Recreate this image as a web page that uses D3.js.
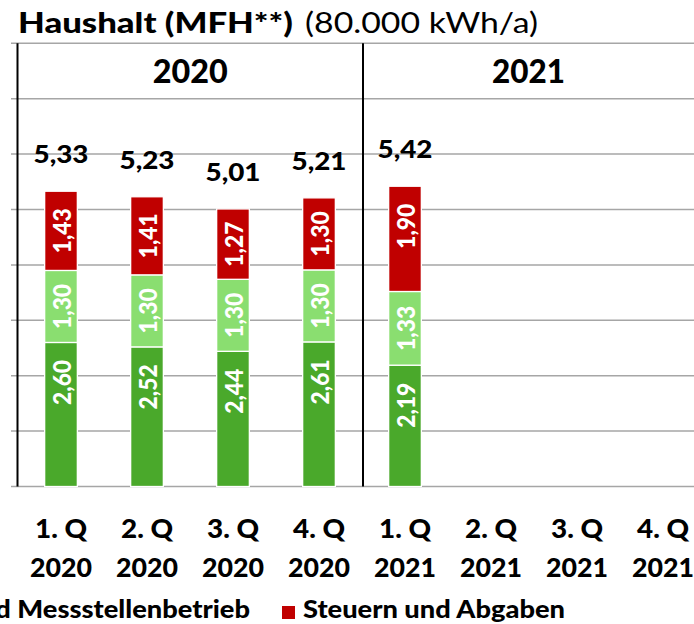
<!DOCTYPE html>
<html><head><meta charset="utf-8">
<script src="https://cdn.jsdelivr.net/npm/d3@7/dist/d3.min.js"></script>
<style>html,body{margin:0;padding:0;background:#fff;overflow:hidden}</style>
</head><body>
<svg id="c" width="694" height="624"></svg>
<script>
// ---- data ----
const quarters = ["1. Q","2. Q","3. Q","4. Q","1. Q","2. Q","3. Q","4. Q"];
const years    = ["2020","2020","2020","2020","2021","2021","2021","2021"];
const energie  = [2.60, 2.52, 2.44, 2.61, 2.19, null, null, null];
const netz     = [1.30, 1.30, 1.30, 1.30, 1.33, null, null, null];
const steuern  = [1.43, 1.41, 1.27, 1.30, 1.90, null, null, null];
const yearGroups = ["2020","2021"];
const seriesNames = ["Energiebeschaffung, Vertrieb, sonstige Kosten und Marge","Netzentgelt inkl. Messung und Messstellenbetrieb","Steuern und Abgaben"];
const yTicks = [0,1,2,3,4,5,6,7,8];

// ---- layout ----
const W = 694, H = 624;
const FONT = "Lato, 'Open Sans', sans-serif";
const BOLD = 900;
const colors = ["#4aa92b", "#8ade70", "#c00000"];
const svg = d3.select("#c");
const cats = quarters.map((q,i)=>q+" "+years[i]);

const x = d3.scaleBand().domain(cats).range([18, 706]).paddingInner(0.62).paddingOuter(0.31);
const y = d3.scaleLinear().domain([0, 8]).range([486.5, 43.3]);

const loc = d3.formatLocale({decimal: ",", thousands: ".", grouping: [3], currency: ["", "€"]});
const fmt = loc.format(".2f");

// size by height, squeeze to target width
function sized(sel, fs, target) {
  sel.attr("font-size", fs);
  const w = sel.node().getComputedTextLength();
  if (target && Math.abs(w - target) > 0.5) sel.attr("textLength", target).attr("lengthAdjust", "spacingAndGlyphs");
  return w;
}

// gridlines
svg.append("g").selectAll("line").data(yTicks).join("line")
  .attr("x1", 11).attr("x2", W)
  .attr("y1", d => y(d)).attr("y2", d => y(d))
  .attr("stroke", "#a6a6a6").attr("stroke-width", 1.5);

// stacked data
const rows = cats.map((c,i)=>({cat:c, e:energie[i], n:netz[i], s:steuern[i]})).filter(r=>r.e!=null);
const stack = d3.stack().keys(["e","n","s"])(rows);

const gBars = svg.append("g");
stack.forEach((layer, li) => {
  gBars.append("g").selectAll("rect").data(layer).join("rect")
    .attr("x", d => x(d.data.cat))
    .attr("width", x.bandwidth())
    .attr("y", d => y(d[1]))
    .attr("height", d => y(d[0]) - y(d[1]))
    .attr("fill", colors[li])
    .attr("stroke", "#fff").attr("stroke-width", 1.3);
});

// vertical separators
const bw = x.bandwidth();
const sepX = (x(cats[3]) + bw + x(cats[4])) / 2 + 1;
const leftX = 17.5;
[leftX, sepX].forEach(px => {
  svg.append("line").attr("x1", px).attr("x2", px).attr("y1", y(8)).attr("y2", y(0))
    .attr("stroke", "#000").attr("stroke-width", 2);
});

// segment labels
stack.forEach((layer, li) => {
  layer.forEach(d => {
    const top = y(d[1]), h = y(d[0]) - y(d[1]);
    const cy = top + Math.min(h/2, 40);
    const cx = x(d.data.cat) + bw/2;
    const t = svg.append("text")
      .attr("transform", `translate(${cx},${cy}) rotate(-90)`)
      .attr("text-anchor", "middle").attr("dominant-baseline", "central")
      .attr("font-family", FONT).attr("font-weight", BOLD)
      .attr("fill", "#fff").text(fmt(d[1]-d[0]));
    sized(t, 24, 45);
  });
});

// totals
rows.forEach(r => {
  const tot = r.e + r.n + r.s;
  const t = svg.append("text")
    .attr("x", x(r.cat) + bw/2).attr("y", y(tot) - 28)
    .attr("text-anchor", "middle")
    .attr("font-family", FONT).attr("font-weight", BOLD)
    .attr("fill", "#000").text(fmt(tot));
  sized(t, 25.5, 55);
});

// x labels
cats.forEach((c,i) => {
  const cx = x(c) + bw/2;
  const t1 = svg.append("text").attr("x", cx).attr("y", 538).attr("text-anchor","middle")
    .attr("font-family", FONT).attr("font-weight",BOLD).text(quarters[i]);
  sized(t1, 26, 52);
  const t2 = svg.append("text").attr("x", cx).attr("y", 577).attr("text-anchor","middle")
    .attr("font-family", FONT).attr("font-weight",BOLD).text(years[i]);
  sized(t2, 27, 62);
});

// year headers
const h1 = svg.append("text").attr("x", (leftX + sepX)/2).attr("y", 83).attr("text-anchor","middle")
  .attr("font-family", FONT).attr("font-weight",BOLD).text(yearGroups[0]);
sized(h1, 33, 75);
const h2 = svg.append("text").attr("x", (sepX + W)/2).attr("y", 83).attr("text-anchor","middle")
  .attr("font-family", FONT).attr("font-weight",BOLD).text(yearGroups[1]);
sized(h2, 33, 73);

// title
const tb = svg.append("text").attr("x", 18).attr("y", 33)
  .attr("font-family", FONT).attr("font-weight",BOLD).text("Haushalt (MFH**)");
sized(tb, 28, 275);
const tr = svg.append("text").attr("x", 305).attr("y", 33)
  .attr("font-family", FONT).text("(80.000 kWh/a)");
sized(tr, 28, 233);

// legend
const lg = svg.append("g");
const l3 = lg.append("text").attr("x", 303).attr("y", 618)
  .attr("font-family", FONT).attr("font-weight",BOLD).text(seriesNames[2]);
const n3 = sized(l3, 24, 262);
const ratio = 262 / n3;
lg.append("rect").attr("x", 282).attr("y", 606).attr("width", 13).attr("height", 13).attr("fill", colors[2]);
const l2 = lg.append("text").attr("x", 250).attr("y", 618).attr("text-anchor","end")
  .attr("font-family", FONT).attr("font-weight",BOLD).text(seriesNames[1]);
l2.attr("font-size", 24);
const n2 = l2.node().getComputedTextLength();
l2.attr("textLength", n2 * ratio).attr("lengthAdjust", "spacingAndGlyphs");
</script>
</body></html>
